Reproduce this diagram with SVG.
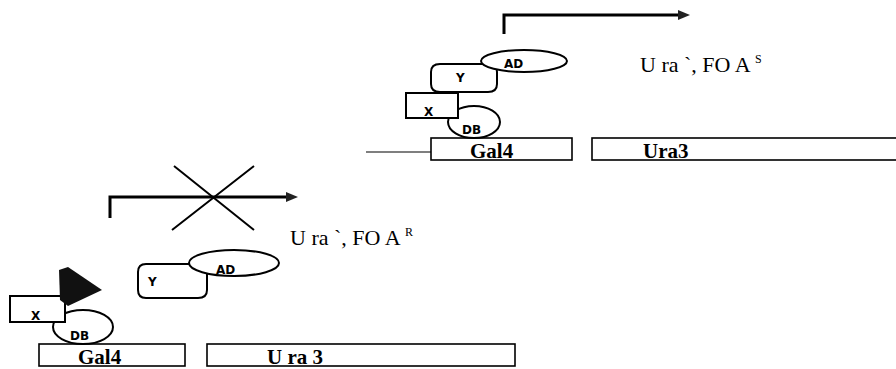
<svg xmlns="http://www.w3.org/2000/svg" width="896" height="369" viewBox="0 0 896 369">
<style>
.sh{fill:#fff;stroke:#000;stroke-width:2}
.bx{fill:#fff;stroke:#000;stroke-width:1.6}
.lb{font-family:"DejaVu Sans",sans-serif;font-weight:bold;font-size:12px;fill:#000}
.gt{font-family:"Liberation Serif",serif;font-size:21px;font-weight:bold;fill:#000}
.ph{font-family:"Liberation Serif",serif;font-size:22px;fill:#000}
.sup{font-size:12px}
.ln{stroke:#000;fill:none}
</style>
<defs>
<marker id="ah" markerWidth="12" markerHeight="12" refX="2" refY="6" orient="auto" markerUnits="userSpaceOnUse" viewBox="0 0 12 12">
<path d="M0,1 L12,6 L0,11 Z" fill="#222"/>
</marker>
</defs>
<rect width="896" height="369" fill="#fff"/>

<g id="connectors">
<path class="ln" d="M504,34 V15 H680" stroke-width="3" marker-end="url(#ah)"/>
<path class="ln" d="M366,152 H431" stroke-width="1.2"/>
<path class="ln" d="M110,218 V197 H288" stroke-width="3" marker-end="url(#ah)"/>
<path class="ln" d="M174,166 L254,230 M254,166 L172,230" stroke-width="2"/>
</g>

<g id="top-gal4"><rect class="bx" x="431" y="138" width="141" height="22"/><text class="gt" x="470" y="158">Gal4</text></g>
<g id="top-ura3"><rect class="bx" x="592" y="138" width="310" height="22"/><text class="gt" x="643" y="158">Ura3</text></g>
<g id="top-db"><ellipse class="sh" cx="474" cy="122" rx="26" ry="16"/><text class="lb" x="462" y="134">DB</text></g>
<g id="top-x"><rect class="sh" x="406" y="93" width="52" height="25"/><text class="lb" x="424" y="116">X</text></g>
<g id="top-y"><path class="sh" d="M440,64 H490 Q497,64 497,72 V84 Q497,92 488,92 H440 Q431,92 431,84 V72 Q431,64 440,64 Z"/><text class="lb" x="456" y="82">Y</text></g>
<g id="top-ad"><ellipse class="sh" cx="524" cy="61" rx="43" ry="11"/><text class="lb" x="504" y="68">AD</text></g>
<g id="top-label"><text class="ph" x="640" y="72">U ra `, FO A <tspan class="sup" dy="-9">S</tspan></text></g>

<g id="bot-gal4"><rect class="bx" x="39" y="344" width="146" height="22"/><text class="gt" x="78" y="364">Gal4</text></g>
<g id="bot-ura3"><rect class="bx" x="207" y="344" width="308" height="22"/><text class="gt" x="267" y="364">U ra 3</text></g>
<g id="bot-db"><ellipse class="sh" cx="83" cy="327" rx="30" ry="17"/><text class="lb" x="70" y="340">DB</text></g>
<g id="bot-x"><rect class="sh" x="10" y="296" width="55" height="26"/><text class="lb" x="31" y="320">X</text></g>
<g id="bot-tri"><path d="M59,270 L68,267 L102,290 L68,306 L60,300 Z" fill="#111"/></g>
<g id="bot-y"><path class="sh" d="M146,264 H200 Q207,264 207,272 V290 Q207,298 198,298 H146 Q138,298 138,290 V272 Q138,264 146,264 Z"/><text class="lb" x="148" y="286">Y</text></g>
<g id="bot-ad"><ellipse class="sh" cx="234" cy="263" rx="45" ry="13"/><text class="lb" x="216" y="274">AD</text></g>
<g id="bot-label"><text class="ph" x="290" y="245">U ra `, FO A <tspan class="sup" dy="-9">R</tspan></text></g>
</svg>
